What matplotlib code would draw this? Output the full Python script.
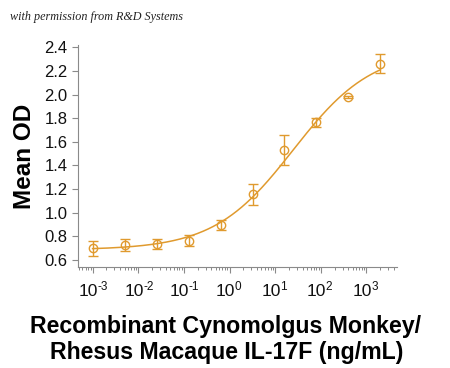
import numpy as np
import matplotlib
matplotlib.use("Agg")
import matplotlib.pyplot as plt
from matplotlib.ticker import LogLocator, FixedLocator
from matplotlib.transforms import blended_transform_factory, offset_copy

# Data
conc = [2000, 400, 80, 16, 3.2, 0.64, 0.128, 0.0256, 0.00512, 0.001024]
mean_od = [2.263, 1.98, 1.764, 1.53, 1.155, 0.896, 0.763, 0.735, 0.727, 0.699]
err = [0.078, 0.01, 0.042, 0.125, 0.09, 0.042, 0.045, 0.045, 0.053, 0.065]

# 4PL fit parameters (bottom, top, EC50, hill)
fit_bottom = 0.685
fit_top = 2.38
fit_ec50 = 25.0
fit_hill = 0.5

yticks = [0.6, 0.8, 1.0, 1.2, 1.4, 1.6, 1.8, 2.0, 2.2, 2.4]
ytick_labels = ["0.6", "0.8", "1.0", "1.2", "1.4", "1.6", "1.8", "2.0", "2.2", "2.4"]
xticks = [1e-3, 1e-2, 1e-1, 1e0, 1e1, 1e2, 1e3]
xtick_exponents = ["-3", "-2", "-1", "0", "1", "2", "3"]

color = "#E09A2E"
axis_gray = "#8a8a8a"

plt.rcParams['font.family'] = ['Liberation Sans', 'DejaVu Sans']

fig = plt.figure(figsize=(4.5, 3.68), dpi=100)
ax = fig.add_axes([78/450, (368-267)/368, (397-78)/450, (267-45)/368])

xs = np.logspace(-3, np.log10(2000), 300)
ys = fit_top + (fit_bottom - fit_top) / (1 + (xs / fit_ec50) ** fit_hill)
ax.plot(xs, ys, color=color, lw=1.1)
ax.errorbar(conc, mean_od, yerr=err, fmt='o', mfc='none', mec=color, ecolor=color,
            ms=6, mew=1.0, elinewidth=1.0, capsize=3.5, capthick=1.0)

ax.set_xscale('log')
ax.set_xlim(10**-3.32, 10**3.67)
ax.set_ylim(0.54, 2.42)

ax.xaxis.set_major_locator(FixedLocator(xticks))
ax.set_xticklabels([])
ax.xaxis.set_minor_locator(LogLocator(base=10, subs=np.arange(2, 10), numticks=20))
ax.set_yticks(yticks)
ax.set_yticklabels(ytick_labels)

# x tick labels: "10" with a small raised exponent (hyphen style, as in the reference)
trans = blended_transform_factory(ax.transData, ax.transAxes)
for xv, ex in zip(xticks, xtick_exponents):
    base_t = offset_copy(trans, fig=fig, x=5.5, y=-29.5, units='dots')
    ax.text(xv, 0, "10", transform=base_t, ha='right', va='baseline',
            fontsize=12.5, color='#111111', clip_on=False)
    exp_t = offset_copy(trans, fig=fig, x=5.0, y=-22.5, units='dots')
    ax.text(xv, 0, ex, transform=exp_t, ha='left', va='baseline',
            fontsize=8.5, color='#111111', clip_on=False)

for s in ['top', 'right']:
    ax.spines[s].set_visible(False)
for s in ['left', 'bottom']:
    ax.spines[s].set_color(axis_gray)
    ax.spines[s].set_linewidth(0.8)

ax.tick_params(axis='both', which='major', colors=axis_gray, labelcolor='#111111',
               labelsize=12, length=4, width=0.8)
ax.tick_params(axis='x', which='minor', colors=axis_gray, length=2.5, width=0.7)

ax.set_ylabel("Mean OD", fontsize=17.5, fontweight='bold', labelpad=6)
fig.text(225/450, (368-327)/368, "Recombinant Cynomolgus Monkey/", ha='center', va='center',
         fontsize=16.7, fontweight='bold')
fig.text(227/450, (368-352)/368, "Rhesus Macaque IL-17F (ng/mL)", ha='center', va='center',
         fontsize=16.7, fontweight='bold')

fig.text(10/450, (368-17)/368, "with permission from R&D Systems", ha='left', va='center',
         fontsize=8.7, style='italic', family='Liberation Serif', color='#222222')

fig.savefig("out.png", dpi=100)
